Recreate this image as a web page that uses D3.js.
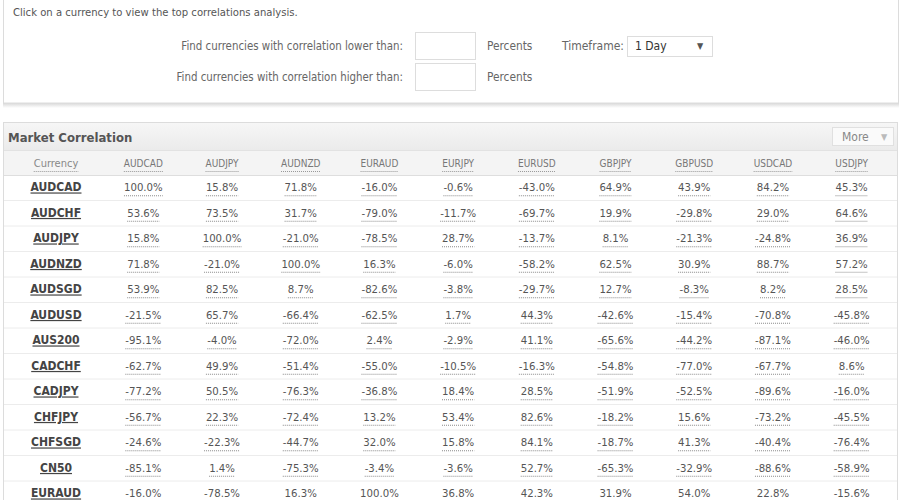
<!DOCTYPE html>
<html>
<head>
<meta charset="utf-8">
<script src="https://cdn.jsdelivr.net/npm/d3@7"></script>
<style>
  body { margin: 0; background: #fff; }
  svg { display: block; font-family: 'DejaVu Sans Condensed', 'DejaVu Sans', sans-serif; font-stretch: condensed; }
</style>
</head>
<body>
<svg id="chart"></svg>
<script>
// columns and rows of the correlation table
var columns = ["AUDCAD","AUDJPY","AUDNZD","EURAUD","EURJPY","EURUSD","GBPJPY","GBPUSD","USDCAD","USDJPY"];
var currencies = ["AUDCAD","AUDCHF","AUDJPY","AUDNZD","AUDSGD","AUDUSD","AUS200","CADCHF","CADJPY","CHFJPY","CHFSGD","CN50","EURAUD"];

var audcad = [100.0, 15.8, 71.8, -16.0, -0.6, -43.0, 64.9, 43.9, 84.2, 45.3];
var audchf = [53.6, 73.5, 31.7, -79.0, -11.7, -69.7, 19.9, -29.8, 29.0, 64.6];
var audjpy = [15.8, 100.0, -21.0, -78.5, 28.7, -13.7, 8.1, -21.3, -24.8, 36.9];
var audnzd = [71.8, -21.0, 100.0, 16.3, -6.0, -58.2, 62.5, 30.9, 88.7, 57.2];
var audsgd = [53.9, 82.5, 8.7, -82.6, -3.8, -29.7, 12.7, -8.3, 8.2, 28.5];
var audusd = [-21.5, 65.7, -66.4, -62.5, 1.7, 44.3, -42.6, -15.4, -70.8, -45.8];
var aus200 = [-95.1, -4.0, -72.0, 2.4, -2.9, 41.1, -65.6, -44.2, -87.1, -46.0];
var cadchf = [-62.7, 49.9, -51.4, -55.0, -10.5, -16.3, -54.8, -77.0, -67.7, 8.6];
var cadjpy = [-77.2, 50.5, -76.3, -36.8, 18.4, 28.5, -51.9, -52.5, -89.6, -16.0];
var chfjpy = [-56.7, 22.3, -72.4, 13.2, 53.4, 82.6, -18.2, 15.6, -73.2, -45.5];
var chfsgd = [-24.6, -22.3, -44.7, 32.0, 15.8, 84.1, -18.7, 41.3, -40.4, -76.4];
var cn50   = [-85.1, 1.4, -75.3, -3.4, -3.6, 52.7, -65.3, -32.9, -88.6, -58.9];
var euraud = [-16.0, -78.5, 16.3, 100.0, 36.8, 42.3, 31.9, 54.0, 22.8, -15.6];

var rowValues = [audcad, audchf, audjpy, audnzd, audsgd, audusd, aus200, cadchf, cadjpy, chfjpy, chfsgd, cn50, euraud];

var width = 900, height = 500;
var svg = d3.select('#chart').attr("width", width).attr("height", height);

// ---- filter box at the top ----
var shadow = svg.append("defs").append("linearGradient").attr("id","shade").attr("x1",0).attr("x2",0).attr("y1",0).attr("y2",1);
shadow.append("stop").attr("offset","0%").attr("stop-color","#d8d8d8");
shadow.append("stop").attr("offset","100%").attr("stop-color","#fff");

svg.append("rect").attr("x",3).attr("y",103).attr("width",896).attr("height",5).attr("fill","url(#shade)");
svg.append("rect").attr("x",3.5).attr("y",-10).attr("width",895).attr("height",113)
    .attr("fill","#fff").attr("stroke","#dcdcdc");

svg.append("text").attr("x",13).attr("y",16).attr("font-size",11.2).attr("fill","#555")
    .text("Click on a currency to view the top correlations analysis.");

var filters = [
    {label:"Find currencies with correlation lower than:", y:46},
    {label:"Find currencies with correlation higher than:", y:77}
];
filters.forEach(function(f){
    svg.append("text").attr("x",403).attr("y",f.y).attr("dy","0.35em").attr("text-anchor","end")
        .attr("font-size",11.4).attr("fill","#666").text(f.label);
    svg.append("rect").attr("x",415.5).attr("y",f.y-13.5).attr("width",60).attr("height",27)
        .attr("fill","#fff").attr("stroke","#ddd");
    svg.append("text").attr("x",487).attr("y",f.y).attr("dy","0.35em")
        .attr("font-size",11.8).attr("fill","#666").text("Percents");
});
svg.append("text").attr("x",624).attr("y",46).attr("dy","0.35em").attr("text-anchor","end")
    .attr("font-size",12).attr("fill","#666").text("Timeframe:");
svg.append("rect").attr("x",627.5).attr("y",36.5).attr("width",85).attr("height",20)
    .attr("fill","#fff").attr("stroke","#ddd");
svg.append("text").attr("x",635).attr("y",46).attr("dy","0.35em")
    .attr("font-size",12).attr("fill","#333").text("1 Day");
svg.append("text").attr("x",697).attr("y",46).attr("dy","0.35em")
    .attr("font-size",9).attr("fill","#555").text("▼");

// ---- Market Correlation panel ----
var bar = svg.select("defs").append("linearGradient").attr("id","bar").attr("x1",0).attr("x2",0).attr("y1",0).attr("y2",1);
bar.append("stop").attr("offset","0%").attr("stop-color","#f6f6f6");
bar.append("stop").attr("offset","100%").attr("stop-color","#ebebeb");

svg.append("rect").attr("x",3.5).attr("y",122.5).attr("width",894).attr("height",400)
    .attr("fill","#fff").attr("stroke","#dcdcdc");
svg.append("rect").attr("x",4).attr("y",123).attr("width",893).attr("height",27).attr("fill","url(#bar)");
svg.append("line").attr("x1",4).attr("x2",897).attr("y1",150.5).attr("y2",150.5).attr("stroke","#e2e2e2");
svg.append("text").attr("x",8).attr("y",137).attr("dy","0.35em").attr("font-size",13)
    .attr("font-weight","bold").attr("fill","#555").text("Market Correlation");

svg.append("rect").attr("x",832.5).attr("y",127.5).attr("width",61).attr("height",18)
    .attr("fill","#fafafa").attr("stroke","#e0e0e0");
svg.append("text").attr("x",842).attr("y",137).attr("dy","0.35em").attr("font-size",12)
    .attr("fill","#888").text("More");
svg.append("text").attr("x",881).attr("y",137).attr("dy","0.35em").attr("font-size",9)
    .attr("fill","#bbb").text("▼");

// column header row
svg.append("rect").attr("x",4).attr("y",151).attr("width",893).attr("height",24).attr("fill","#f4f4f4");
svg.append("line").attr("x1",4).attr("x2",897).attr("y1",175.5).attr("y2",175.5).attr("stroke","#dedede");

var x = d3.scaleBand().domain(columns).range([104, 891]);
var y = d3.scaleBand().domain(currencies).range([174.5, 174.5 + currencies.length*25.5]);
var headerY = 163;
var currencyX = 56;

function dotted(sel, color){
    sel.each(function(){
        var t = d3.select(this);
        var w = this.getComputedTextLength();
        var x0 = +t.attr("x"), anchor = t.attr("text-anchor");
        var left = anchor === "middle" ? x0 - w/2 : x0;
        var yy = +t.attr("y") + 8.5;
        d3.select(this.parentNode).append("line")
            .attr("x1",left).attr("x2",left+w).attr("y1",yy).attr("y2",yy)
            .attr("stroke",color).attr("stroke-dasharray","1,1");
    });
}

var head = svg.append("g");
head.append("text").attr("x",currencyX).attr("y",headerY).attr("dy","0.35em").attr("text-anchor","middle")
    .attr("font-size",11).attr("fill","#888").text("Currency").call(dotted,"#999");
head.selectAll("text.col").data(columns).enter().append("text").attr("class","col")
    .attr("x",function(d){return x(d)+x.bandwidth()/2;})
    .attr("y",headerY).attr("dy","0.35em").attr("text-anchor","middle")
    .attr("font-size",10).attr("fill","#777").text(function(d){return d;})
    .call(dotted,"#999");

// body rows
var rows = svg.append("g").selectAll("g").data(currencies).enter().append("g");
rows.append("line")
    .attr("x1",4).attr("x2",897)
    .attr("y1",function(d){return y(d)+y.bandwidth()+0.5;})
    .attr("y2",function(d){return y(d)+y.bandwidth()+0.5;})
    .attr("stroke","#ececec");
rows.append("text")
    .attr("x",currencyX).attr("y",function(d){return y(d)+y.bandwidth()/2;}).attr("dy","0.35em")
    .attr("text-anchor","middle").attr("font-size",12).attr("font-weight","bold")
    .attr("fill","#444").attr("text-decoration","underline").text(function(d){return d;});

rows.each(function(cur, i){
    var g = d3.select(this);
    var cy = y(cur)+y.bandwidth()/2;
    g.selectAll("text.val").data(rowValues[i]).enter().append("text").attr("class","val")
        .attr("x",function(d,j){return x(columns[j])+x.bandwidth()/2;})
        .attr("y",cy).attr("dy","0.35em").attr("text-anchor","middle")
        .attr("font-size",11.3).attr("fill","#555")
        .text(function(d){return d.toFixed(1)+"%";})
        .call(dotted,"#8a8a8a");
});
</script>
</body>
</html>
